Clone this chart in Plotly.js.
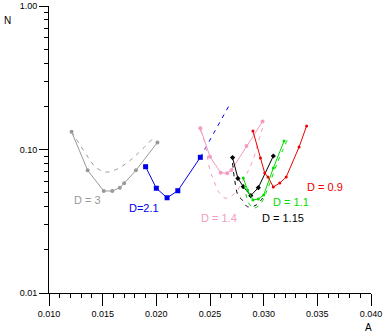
<!DOCTYPE html>
<html>
<head>
<meta charset="utf-8">
<script src="https://cdn.plot.ly/plotly-3.0.1.min.js"></script>
<style>html,body{margin:0;padding:0;background:#fff}#chart{width:384px;height:334px}</style>
</head>
<body>
<div id="chart"></div>
<script>
// D = 3 (gray)
var d3X = [0.0121, 0.0136, 0.0151, 0.0159, 0.0166, 0.0170, 0.0181, 0.0201];
var d3Y = [0.133, 0.0716, 0.0514, 0.0514, 0.0542, 0.0581, 0.0716, 0.112];
var d3FitX = [0.0121, 0.0135, 0.0143, 0.0152, 0.0163, 0.0174, 0.0183, 0.0196];
var d3FitY = [0.133, 0.0916, 0.0759, 0.0697, 0.0728, 0.0822, 0.0941, 0.1178];
// D = 2.1 (blue)
var d21X = [0.0190, 0.0200, 0.0210, 0.0220, 0.0241];
var d21Y = [0.0759, 0.0537, 0.0461, 0.0516, 0.0882];
var d21FitX = [0.0241, 0.0268];
var d21FitY = [0.0882, 0.204];
// D = 1.4 (pink)
var d14X = [0.0241, 0.0250, 0.0260, 0.0266, 0.0270, 0.0284, 0.0299];
var d14Y = [0.1405, 0.0891, 0.0689, 0.0682, 0.0720, 0.1058, 0.1567];
var d14FitX = [0.0241, 0.0245, 0.0250, 0.0254, 0.0258, 0.0265, 0.0273, 0.0285, 0.0290, 0.0295, 0.0299];
var d14FitY = [0.1368, 0.1128, 0.0720, 0.0596, 0.0508, 0.0457, 0.0495, 0.0697, 0.0845, 0.1128, 0.1413];
// D = 1.15 (black)
var d115X = [0.0271, 0.0276, 0.0281, 0.0288, 0.0295, 0.0309];
var d115Y = [0.0879, 0.0629, 0.0551, 0.0477, 0.0542, 0.0901];
var d115FitX = [0.0271, 0.0273, 0.0276, 0.0280, 0.0285, 0.0293, 0.0299];
var d115FitY = [0.0805, 0.0613, 0.0482, 0.0445, 0.0399, 0.0410, 0.0459];
// D = 1.1 (green)
var d11X = [0.0281, 0.0285, 0.0290, 0.0295, 0.0300, 0.0309, 0.0319];
var d11Y = [0.0633, 0.0522, 0.0445, 0.0452, 0.0482, 0.0743, 0.1145];
var d11FitX = [0.0282, 0.0286, 0.0291, 0.0297, 0.0304, 0.0313, 0.0322];
var d11FitY = [0.0566, 0.0424, 0.0391, 0.0417, 0.0539, 0.0818, 0.1164];
// D = 0.9 (red)
var d09X = [0.0290, 0.0297, 0.0301, 0.0304, 0.0309, 0.0315, 0.0321, 0.0333, 0.0340];
var d09Y = [0.1346, 0.0873, 0.0685, 0.0643, 0.0548, 0.0584, 0.0643, 0.1041, 0.1458];

var xTicks = [0.010, 0.015, 0.020, 0.025, 0.030, 0.035, 0.040];
var xTickText = ['0.010', '0.015', '0.020', '0.025', '0.030', '0.035', '0.040'];
var yTicks = [0.01, 0.1, 1];
var yTickText = ['0.01', '0.10', '1.00'];
var yMinor = [0.02,0.03,0.04,0.05,0.06,0.07,0.08,0.09,0.2,0.3,0.4,0.5,0.6,0.7,0.8,0.9];

var labels = [
  {text: 'D = 3', x: 0.01354, y: 0.0444, color: '#999999'},
  {text: 'D=2.1', x: 0.01885, y: 0.0391, color: '#0000ee'},
  {text: 'D = 1.4', x: 0.02584, y: 0.0333, color: '#f49ac2'},
  {text: 'D = 1.15', x: 0.0318, y: 0.0333, color: '#000000'},
  {text: 'D = 1.1', x: 0.03255, y: 0.0431, color: '#00dd00'},
  {text: 'D = 0.9', x: 0.03572, y: 0.0548, color: '#ee0000'}
];

function solid(x, y, color, sym, size) {
  return {x: x, y: y, type: 'scatter', mode: 'lines+markers',
    line: {color: color, width: 1}, marker: {color: color, size: size, symbol: sym}, hoverinfo: 'none'};
}
function dashed(x, y, color) {
  return {x: x, y: y, type: 'scatter', mode: 'lines',
    line: {color: color, width: 1, dash: '4px,5px', shape: 'spline'}, hoverinfo: 'none'};
}

var data = [
  dashed(d3FitX, d3FitY, '#999999'),
  solid(d3X, d3Y, '#999999', 'circle', 4),
  dashed(d21FitX, d21FitY, '#0000ee'),
  solid(d21X, d21Y, '#0000ee', 'square', 5),
  dashed(d14FitX, d14FitY, '#f49ac2'),
  solid(d14X, d14Y, '#f49ac2', 'circle', 4),
  dashed(d115FitX, d115FitY, '#000000'),
  solid(d115X, d115Y, '#000000', 'diamond', 4),
  dashed(d11FitX, d11FitY, '#00dd00'),
  solid(d11X, d11Y, '#00dd00', 'circle', 3),
  solid(d09X, d09Y, '#ee0000', 'circle', 3)
];

var ann = labels.map(function (l) {
  return {text: l.text, x: l.x, y: Math.log10(l.y), xref: 'x', yref: 'y', showarrow: false,
    font: {family: 'Arial, Liberation Sans, sans-serif', size: 11, color: l.color}};
});
ann.push({text: 'N', xref: 'paper', yref: 'paper', x: -0.145, y: 0.975, showarrow: false,
  font: {family: 'Arial, Liberation Sans, sans-serif', size: 10, color: '#000'}});
ann.push({text: 'A', xref: 'paper', yref: 'paper', x: 1.009, y: -0.148, showarrow: false,
  font: {family: 'Arial, Liberation Sans, sans-serif', size: 10, color: '#000'}});

var layout = {
  width: 384, height: 334,
  margin: {l: 49, r: 13, t: 6, b: 41, pad: 0},
  paper_bgcolor: '#fff', plot_bgcolor: '#fff',
  showlegend: false,
  font: {family: 'Arial, Liberation Sans, sans-serif', size: 9, color: '#000'},
  xaxis: {
    range: [0.010, 0.040], showgrid: false, zeroline: false,
    showline: true, linecolor: '#000', linewidth: 1,
    tickmode: 'array', tickvals: xTicks, ticktext: xTickText,
    ticks: 'outside', ticklen: 12, tickcolor: '#000', tickwidth: 1,
    minor: {dtick: 0.001, tick0: 0.010, ticks: 'outside', ticklen: 4, tickcolor: '#000', showgrid: false},
    tickfont: {size: 9}
  },
  yaxis: {
    type: 'log', range: [-2, 0], showgrid: false, zeroline: false,
    showline: true, linecolor: '#000', linewidth: 1,
    tickmode: 'array', tickvals: yTicks, ticktext: yTickText,
    ticks: 'outside', ticklen: 9, tickcolor: '#000', tickwidth: 1,
    minor: {tickmode: 'array', tickvals: yMinor, ticks: 'outside', ticklen: 4, tickcolor: '#000', showgrid: false},
    tickfont: {size: 9}
  },
  annotations: ann
};

Plotly.newPlot('chart', data, layout, {staticPlot: true, displayModeBar: false});
</script>
</body>
</html>
